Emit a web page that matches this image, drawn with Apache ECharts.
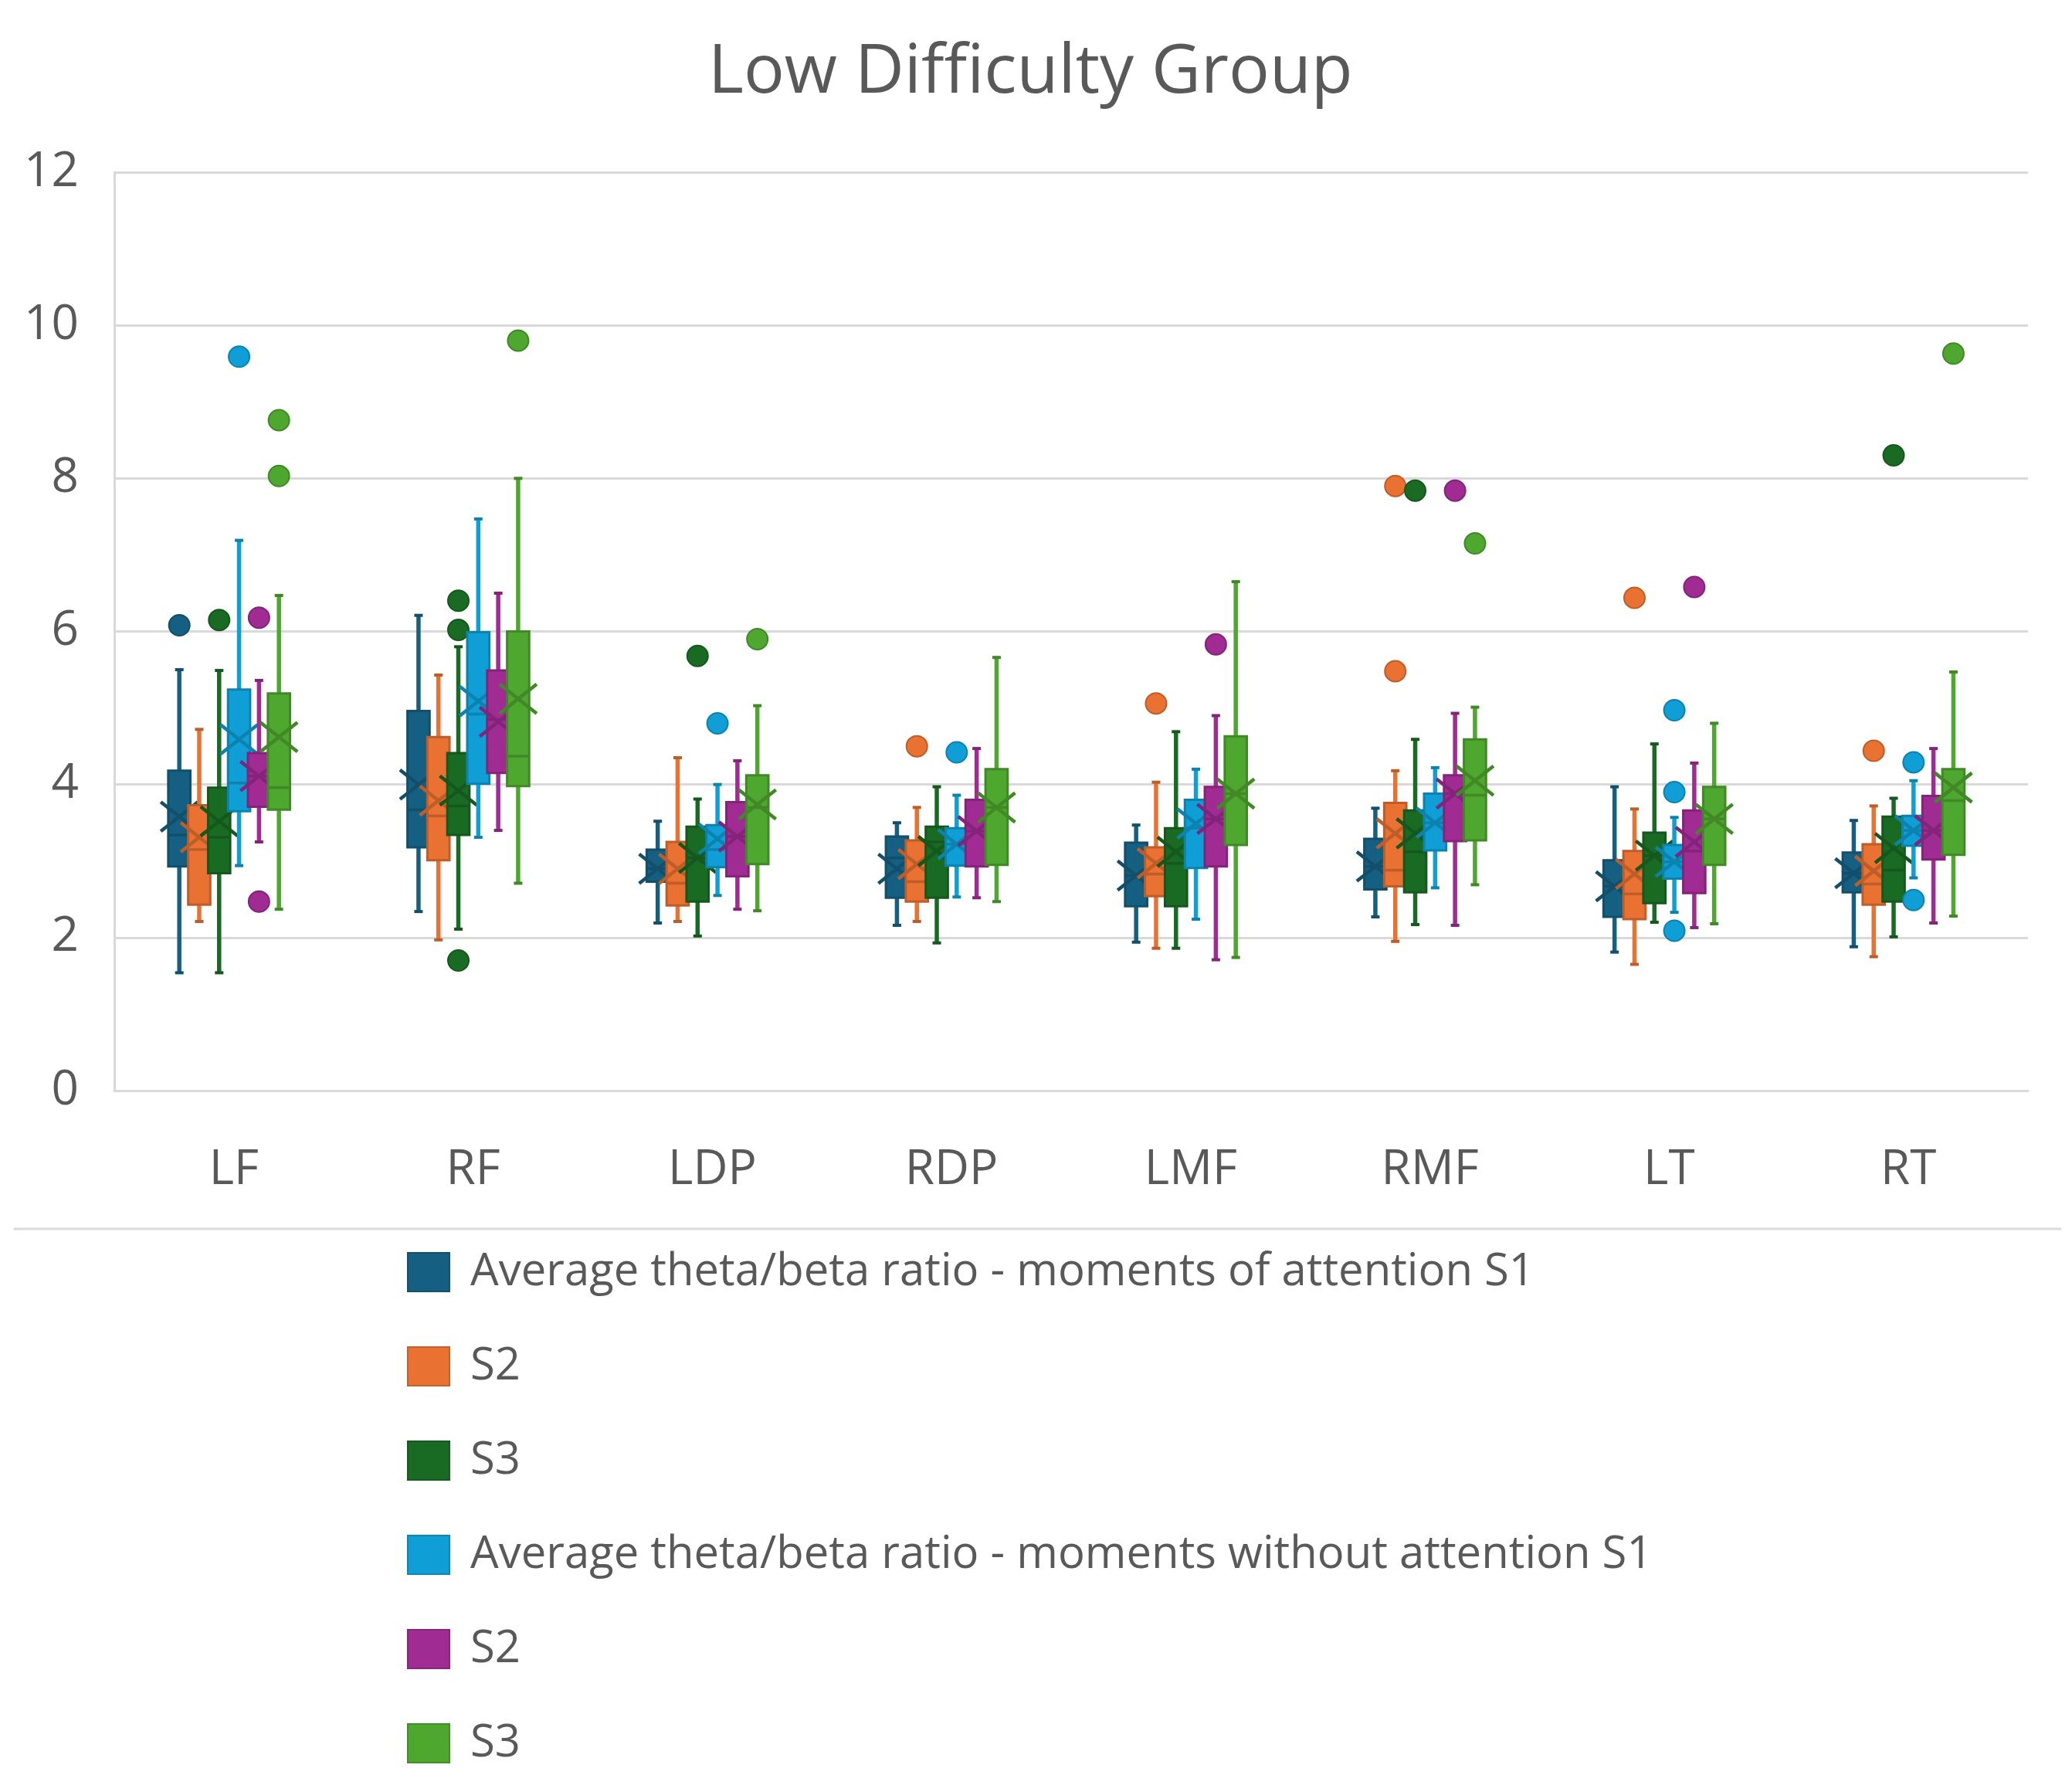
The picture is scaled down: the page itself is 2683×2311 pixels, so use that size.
<!DOCTYPE html>
<html><head><meta charset="utf-8">
<script src="https://cdn.jsdelivr.net/npm/echarts@6/dist/echarts.min.js"></script>
<style>html,body{margin:0;padding:0;background:#fff}#c{width:2683px;height:2311px}</style>
</head><body><div id="c"></div>
<script>
const categories = ['LF', 'RF', 'LDP', 'RDP', 'LMF', 'RMF', 'LT', 'RT'];
const seriesNames = [
  'Average theta/beta ratio - moments of attention S1', 'S2', 'S3',
  'Average theta/beta ratio - moments without attention S1', 'S2 ', 'S3 '
];
const yTicks = [0, 2, 4, 6, 8, 10, 12];

// [lower whisker, Q1, median, Q3, upper whisker] per category
const attS1Box = [[1.54,2.93,3.34,4.18,5.50],[2.34,3.18,3.67,4.96,6.21],[2.19,2.73,2.90,3.15,3.52],[2.16,2.52,3.04,3.32,3.50],[1.94,2.41,2.81,3.24,3.47],[2.27,2.63,2.93,3.29,3.69],[1.81,2.27,2.67,3.01,3.97],[1.88,2.59,2.84,3.11,3.53]];
const attS2Box = [[2.21,2.43,3.15,3.73,4.72],[1.97,3.01,3.59,4.62,5.43],[2.21,2.42,2.71,3.25,4.35],[2.21,2.47,2.73,3.27,3.70],[1.86,2.54,2.83,3.18,4.03],[1.95,2.67,2.88,3.76,4.18],[1.65,2.24,2.57,3.13,3.68],[1.75,2.43,2.70,3.22,3.72]];
const attS3Box = [[1.54,2.84,3.31,3.96,5.49],[2.11,3.34,3.72,4.41,5.80],[2.02,2.47,3.04,3.45,3.81],[1.93,2.52,3.25,3.45,3.97],[1.86,2.41,2.97,3.43,4.69],[2.17,2.59,3.12,3.66,4.59],[2.20,2.45,3.07,3.37,4.53],[2.01,2.47,2.88,3.58,3.82]];
const woS1Box = [[2.94,3.65,4.02,5.24,7.19],[3.31,4.01,4.92,5.99,7.47],[2.55,2.92,3.15,3.47,4.00],[2.53,2.94,3.22,3.43,3.86],[2.24,2.91,3.43,3.80,4.20],[2.65,3.14,3.50,3.88,4.22],[2.33,2.77,2.99,3.21,3.57],[2.78,3.20,3.40,3.59,4.05]];
const woS2Box = [[3.25,3.71,4.11,4.41,5.36],[3.40,4.15,4.85,5.49,6.50],[2.37,2.80,3.32,3.77,4.31],[2.52,2.93,3.39,3.80,4.47],[1.71,2.93,3.55,3.97,4.90],[2.16,3.26,3.88,4.12,4.93],[2.13,2.58,3.13,3.66,4.28],[2.19,3.02,3.40,3.85,4.47]];
const woS3Box = [[2.37,3.67,3.96,5.19,6.47],[2.71,3.98,4.37,6.00,8.00],[2.35,2.96,3.70,4.12,5.03],[2.47,2.95,3.70,4.20,5.66],[1.74,3.21,3.88,4.63,6.65],[2.69,3.27,3.86,4.59,5.01],[2.18,2.95,3.55,3.97,4.80],[2.28,3.08,3.79,4.20,5.47]];

// mean per category
const attS1Mean = [3.58, 4.00, 2.90, 2.90, 2.81, 2.93, 2.67, 2.84];
const attS2Mean = [3.31, 3.79, 2.90, 2.96, 2.97, 3.36, 2.83, 2.87];
const attS3Mean = [3.52, 3.92, 3.04, 3.13, 3.12, 3.36, 3.07, 3.17];
const woS1Mean  = [4.59, 5.09, 3.29, 3.22, 3.49, 3.50, 2.99, 3.40];
const woS2Mean  = [4.11, 4.82, 3.32, 3.39, 3.55, 3.88, 3.25, 3.40];
const woS3Mean  = [4.62, 5.12, 3.74, 3.70, 3.88, 4.05, 3.55, 3.96];

// outliers: [category index, value]
const attS1Out = [[0, 6.08]];
const attS2Out = [[3, 4.50], [4, 5.06], [5, 7.90], [5, 5.48], [6, 6.44], [7, 4.44]];
const attS3Out = [[0, 6.15], [1, 6.40], [1, 6.02], [1, 1.70], [2, 5.68], [5, 7.84], [7, 8.30]];
const woS1Out  = [[0, 9.59], [2, 4.80], [3, 4.42], [6, 4.97], [6, 3.90], [6, 2.09], [7, 4.29], [7, 2.49]];
const woS2Out  = [[0, 6.18], [0, 2.47], [4, 5.83], [5, 7.84], [6, 6.58]];
const woS3Out  = [[0, 8.76], [0, 8.03], [1, 9.80], [2, 5.90], [5, 7.15], [7, 9.63]];

const boxes = [attS1Box, attS2Box, attS3Box, woS1Box, woS2Box, woS3Box];
const means = [attS1Mean, attS2Mean, attS3Mean, woS1Mean, woS2Mean, woS3Mean];
const outs  = [attS1Out, attS2Out, attS3Out, woS1Out, woS2Out, woS3Out];
const colors = ['#156082', '#E97132', '#196B24', '#0F9ED5', '#A02B93', '#4EA72E'];

function shade(hex, f) {
  const n = parseInt(hex.slice(1), 16);
  const r = Math.round(((n >> 16) & 255) * f), g = Math.round(((n >> 8) & 255) * f), b = Math.round((n & 255) * f);
  return 'rgb(' + r + ',' + g + ',' + b + ')';
}

const SPACING = 0.0833, BOXW = 0.0925, SHIFT = -0.02;

function makeSeries(k) {
  const col = colors[k], dark = shade(col, 0.82);
  return {
    name: seriesNames[k],
    type: 'custom',
    itemStyle: { color: col },
    encode: { x: 0, y: [1, 2, 3, 4, 5, 6] },
    data: categories.map((c, i) => [i].concat(boxes[k][i], [means[k][i]])),
    renderItem: function (params, api) {
      const ci = api.value(0);
      const lo = api.value(1), q1 = api.value(2), med = api.value(3), q3 = api.value(4), hi = api.value(5), mean = api.value(6);
      const band = api.size([1, 0])[0];
      const cx = api.coord([ci, 0])[0] + (k - 2.5) * band * SPACING + SHIFT * band;
      const Y = v => api.coord([ci, v])[1];
      const w = band * BOXW;
      const capW = 11;
      const children = [];
      children.push({ type: 'line', shape: { x1: cx, y1: Y(hi), x2: cx, y2: Y(lo) }, style: { stroke: col, lineWidth: 5.5 } });
      children.push({ type: 'line', shape: { x1: cx - capW / 2, y1: Y(hi), x2: cx + capW / 2, y2: Y(hi) }, style: { stroke: dark, lineWidth: 4 } });
      children.push({ type: 'line', shape: { x1: cx - capW / 2, y1: Y(lo), x2: cx + capW / 2, y2: Y(lo) }, style: { stroke: dark, lineWidth: 4 } });
      children.push({ type: 'rect', shape: { x: cx - w / 2, y: Y(q3), width: w, height: Y(q1) - Y(q3) }, style: { fill: col, stroke: dark, lineWidth: 3 } });
      children.push({ type: 'line', shape: { x1: cx - w / 2, y1: Y(med), x2: cx + w / 2, y2: Y(med) }, style: { stroke: dark, lineWidth: 3.5 } });
      const my = Y(mean), mx = 24, myh = 19;
      children.push({ type: 'line', shape: { x1: cx - mx, y1: my - myh, x2: cx + mx, y2: my + myh }, style: { stroke: dark, lineWidth: 4.5 } });
      children.push({ type: 'line', shape: { x1: cx - mx, y1: my + myh, x2: cx + mx, y2: my - myh }, style: { stroke: dark, lineWidth: 4.5 } });
      outs[k].filter(o => o[0] === ci).forEach(o => {
        children.push({ type: 'circle', shape: { cx: cx, cy: api.coord([ci, o[1]])[1], r: 13.5 }, style: { fill: col, stroke: dark, lineWidth: 2 } });
      });
      return { type: 'group', children: children };
    }
  };
}

const chart = echarts.init(document.getElementById('c'));
chart.setOption({
  backgroundColor: '#ffffff',
  animation: false,
  title: {
    text: 'Low Difficulty Group', left: 912, top: 46,
    textStyle: { fontFamily: 'Open Sans', fontSize: 88, fontWeight: 'normal', color: '#595959' }
  },
  grid: { left: 148, right: 57, top: 223, bottom: 899 },
  xAxis: {
    type: 'category', data: categories,
    axisLine: { lineStyle: { color: '#d9d9d9', width: 3 } },
    axisTick: { show: false },
    axisLabel: { fontFamily: 'Open Sans', fontSize: 62, color: '#595959', margin: 72 },
    splitLine: { show: false }
  },
  yAxis: {
    type: 'value', min: yTicks[0], max: yTicks[yTicks.length - 1], interval: 2,
    axisLine: { show: true, lineStyle: { color: '#d9d9d9', width: 3 } },
    axisTick: { show: false },
    axisLabel: { fontFamily: 'Open Sans', fontSize: 62, color: '#595959', margin: 46 },
    splitLine: { lineStyle: { color: '#d9d9d9', width: 3 } }
  },
  legend: {
    orient: 'vertical', left: 522, top: 1610,
    data: seriesNames.map((n, k) => ({ name: n, icon: 'rect', itemStyle: { color: colors[k], borderColor: shade(colors[k], 0.85), borderWidth: 2 } })),
    itemWidth: 54, itemHeight: 50, itemGap: 58,
    textStyle: { fontFamily: 'Open Sans', fontSize: 58, color: '#595959', lineHeight: 64, padding: [0, 0, 0, 22] }
  },
  graphic: [{
    type: 'line', shape: { x1: 18, y1: 1591, x2: 2669, y2: 1591 },
    style: { stroke: '#d9d9d9', lineWidth: 3 }
  }],
  series: [0, 1, 2, 3, 4, 5].map(makeSeries)
});
</script>
</body></html>
